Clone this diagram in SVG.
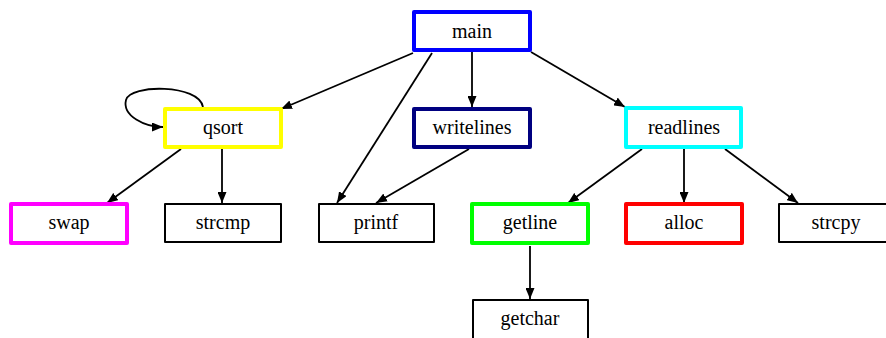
<svg xmlns="http://www.w3.org/2000/svg" width="886" height="338" viewBox="0 0 886 338">
  <style>
    .node rect { fill: #ffffff; stroke-linejoin: round; }
    .thin { stroke: #000000; stroke-width: 2; }
    .thick { stroke-width: 4; }
    .node text { font-family: "Times New Roman", Times, "Liberation Serif", serif; font-size: 20px; fill: #000000; text-anchor: middle; }
    .edges path { fill: none; stroke: #000000; stroke-width: 1.8; marker-end: url(#arrow); }
  </style>
  <defs>
    <marker id="arrow" markerUnits="userSpaceOnUse" markerWidth="11" markerHeight="9" refX="11" refY="4.5" orient="auto">
      <path d="M0,0 L11,4.5 L0,9 z" fill="#000000"/>
    </marker>
  </defs>
  <rect width="886" height="338" fill="#ffffff"/>

  <!-- connectors -->
  <g id="edges" class="edges">
    <path d="M413,53 L281,109"/>
    <path d="M432,53 L337,203"/>
    <path d="M472,52 L472,107"/>
    <path d="M531,52 L625,107"/>
    <path d="M203,107 C199,84 130,84 126,100 C122,116 145,127 163,127"/>
    <path d="M181,149 L107,203"/>
    <path d="M222,149 L222,203"/>
    <path d="M469,149 L376,203"/>
    <path d="M642,149 L568,203"/>
    <path d="M684,149 L684,203"/>
    <path d="M725,149 L798,203"/>
    <path d="M530,246 L530,299"/>
  </g>

  <!-- nodes -->
  <g id="main" class="node">
    <rect class="thick" x="414" y="12" width="116" height="38" stroke="#0000ff"/>
    <text x="472" y="38">main</text>
  </g>
  <g id="qsort" class="node">
    <rect class="thick" x="165" y="109" width="116" height="38" stroke="#ffff00"/>
    <text x="223" y="134">qsort</text>
  </g>
  <g id="writelines" class="node">
    <rect class="thick" x="414" y="109" width="116" height="38" stroke="#000080"/>
    <text x="472" y="134">writelines</text>
  </g>
  <g id="readlines" class="node">
    <rect class="thick" x="626" y="108" width="115" height="39" stroke="#00ffff"/>
    <text x="684" y="134">readlines</text>
  </g>
  <g id="swap" class="node">
    <rect class="thick" x="11" y="204" width="116" height="39" stroke="#ff00ff"/>
    <text x="69" y="229">swap</text>
  </g>
  <g id="strcmp" class="node">
    <rect class="thin" x="165" y="204" width="116" height="38"/>
    <text x="223" y="229">strcmp</text>
  </g>
  <g id="printf" class="node">
    <rect class="thin" x="319" y="204" width="115" height="38"/>
    <text x="376" y="229">printf</text>
  </g>
  <g id="getline" class="node">
    <rect class="thick" x="472" y="204" width="116" height="39" stroke="#00ff00"/>
    <text x="530" y="229">getline</text>
  </g>
  <g id="alloc" class="node">
    <rect class="thick" x="626" y="204" width="116" height="39" stroke="#ff0000"/>
    <text x="684" y="229">alloc</text>
  </g>
  <g id="strcpy" class="node">
    <rect class="thin" x="779" y="204" width="116" height="38"/>
    <text x="836" y="229">strcpy</text>
  </g>
  <g id="getchar" class="node">
    <rect class="thin" x="473" y="300" width="115" height="40"/>
    <text x="530" y="325">getchar</text>
  </g>
</svg>
